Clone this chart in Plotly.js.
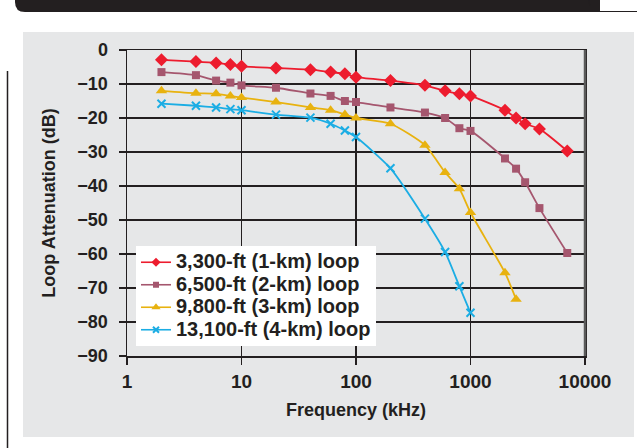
<!DOCTYPE html>
<html>
<head>
<meta charset="utf-8">
<script src="https://cdn.plot.ly/plotly-3.0.1.min.js"></script>
<style>
html,body{margin:0;padding:0;background:#ffffff;}
#chart{width:637px;height:448px;}
</style>
</head>
<body>
<div id="chart"></div>
<script>
// ---- data ----
var freqKHz = [2, 4, 6, 8, 10, 20, 40, 60, 80, 100, 200, 400, 600, 800, 1000, 2000, 2500, 3000, 4000, 7000];
var loop1km = [-2.9, -3.4, -3.8, -4.3, -4.8, -5.3, -5.8, -6.5, -7.0, -8.0, -9.0, -10.4, -12.0, -12.9, -13.5, -17.7, -20.0, -21.7, -23.2, -29.7];
var loop2km = [-6.5, -7.4, -9.0, -9.6, -10.4, -11.1, -12.8, -13.5, -15.0, -15.3, -16.9, -18.4, -20.0, -23.0, -23.8, -31.9, -34.9, -38.9, -46.5, -59.7];
var freq3km = [2, 4, 6, 8, 10, 20, 40, 60, 80, 100, 200, 400, 600, 800, 1000, 2000, 2500];
var loop3km = [-12.0, -12.7, -12.9, -13.5, -14.0, -15.3, -16.9, -17.7, -19.0, -20.0, -21.7, -28.0, -36.0, -40.8, -47.8, -65.5, -73.3];
var freq4km = [2, 4, 6, 8, 10, 20, 40, 60, 80, 100, 200, 400, 600, 800, 1000];
var loop4km = [-15.8, -16.4, -16.9, -17.4, -17.7, -19.0, -19.9, -21.7, -23.7, -25.6, -34.8, -49.6, -59.4, -69.5, -77.3];
var seriesNames = ["3,300-ft (1-km) loop", "6,500-ft (2-km) loop", "9,800-ft (3-km) loop", "13,100-ft (4-km) loop"];
var xTickVals = [1, 10, 100, 1000, 10000];
var xTickText = ["1", "10", "100", "1000", "10000"];
var yTickVals = [0, -10, -20, -30, -40, -50, -60, -70, -80, -90];

// ---- layout geometry ----
var W = 637, H = 448;
var M = {l: 127, r: 52, t: 50, b: 92};
var PW = W - M.l - M.r, PH = H - M.t - M.b;
function px(x){ return (x - M.l) / PW; }
function py(y){ return (H - M.b - y) / PH; }

var ink = "#231f20";
var FONT = "Liberation Sans, Arial, Helvetica, sans-serif";
var colors = ["#ed1c2e", "#a5566e", "#e8b20f", "#1badE4"];
var symbols = ["diamond", "square", "triangle-up", "x-thin"];
var plotSizes = [10, 8, 10, 8];
var legendSizes = [7, 6, 8, 6];

function marker(i, size){
  var m = {symbol: symbols[i], size: size, color: colors[i]};
  if (symbols[i] === "x-thin") m.line = {width: 2, color: colors[i]};
  return m;
}

var xs = [freqKHz, freqKHz, freq3km, freq4km];
var ys = [loop1km, loop2km, loop3km, loop4km];
var traces = [];
for (var i = 0; i < 4; i++) {
  traces.push({
    type: "scatter", mode: "lines+markers", x: xs[i], y: ys[i], name: seriesNames[i],
    line: {color: colors[i], width: 1.8, shape: "spline", smoothing: 0.6},
    marker: marker(i, plotSizes[i]), cliponaxis: false, showlegend: false
  });
}
// legend entries (small symbols, like the reference key)
for (var j = 0; j < 4; j++) {
  traces.push({
    type: "scatter", mode: "lines+markers", x: [null], y: [null],
    name: '<span style="font-size:20px">' + seriesNames[j] + '</span>',
    line: {color: colors[j], width: 1.6},
    marker: marker(j, legendSizes[j]), showlegend: true
  });
}

// rounded header bar path (in paper coords)
function headerPath(){
  var x0 = 15, x1 = 600, y0 = 0, y1 = 12, r = 10;
  return "M " + px(x0) + "," + py(y0) +
         " L " + px(x1) + "," + py(y0) +
         " L " + px(x1) + "," + py(y1) +
         " L " + px(x0 + r) + "," + py(y1) +
         " Q " + px(x0) + "," + py(y1) + " " + px(x0) + "," + py(y1 - r) + " Z";
}
function tabPath(){
  var x0 = 589, x1 = 645, y0 = -2, y1 = 11.5, r = 11;
  return "M " + px(x0) + "," + py(y0) +
         " L " + px(x0) + "," + py(y1 - r) +
         " Q " + px(x0) + "," + py(y1) + " " + px(x0 + r) + "," + py(y1) +
         " L " + px(x1) + "," + py(y1);
}

var layout = {
  width: W, height: H,
  margin: M,
  paper_bgcolor: "#ffffff",
  plot_bgcolor: "#ffffff",
  font: {family: FONT, color: ink},
  showlegend: true,
  legend: {
    x: px(136), y: py(246), xanchor: "left", yanchor: "top",
    bgcolor: "#ffffff", borderwidth: 0,
    font: {family: FONT, size: 15, color: ink, weight: "bold"},
    tracegroupgap: 0, itemwidth: 30
  },
  xaxis: {
    type: "log", range: [0, 4],
    tickvals: xTickVals, ticktext: xTickText,
    showgrid: true, gridcolor: ink, gridwidth: 1.5,
    showline: true, linecolor: ink, linewidth: 1.5, mirror: true,
    ticks: "outside", ticklen: 7, tickcolor: ink, tickwidth: 1.5,
    ticklabelstandoff: 1,
    tickfont: {family: FONT, size: 19, color: ink, weight: "bold"},
    title: {text: "Frequency (kHz)", font: {family: FONT, size: 18, color: ink, weight: "bold"}, standoff: 12},
    zeroline: false, fixedrange: true
  },
  yaxis: {
    range: [-90, 0],
    tickvals: yTickVals,
    showgrid: true, gridcolor: ink, gridwidth: 1.5,
    showline: true, linecolor: ink, linewidth: 1.5, mirror: true,
    ticks: "outside", ticklen: 7, tickcolor: ink, tickwidth: 1.5,
    ticklabelstandoff: 7,
    tickfont: {family: FONT, size: 18, color: ink, weight: "bold"},
    title: {text: "Loop Attenuation (dB)", font: {family: FONT, size: 18, color: ink, weight: "bold"}, standoff: 17},
    zeroline: false, fixedrange: true
  },
  shapes: [
    {type: "rect", xref: "paper", yref: "paper", layer: "below",
     x0: px(23), x1: px(634), y0: py(437), y1: py(32),
     fillcolor: "#e6e7e8", line: {width: 0}},
    {type: "path", xref: "paper", yref: "paper", path: headerPath(),
     fillcolor: "#231f20", line: {width: 0}},
    {type: "path", xref: "paper", yref: "paper", path: tabPath(),
     line: {color: "#231f20", width: 1}},
    {type: "line", xref: "paper", yref: "paper",
     x0: px(7.5), x1: px(7.5), y0: py(71), y1: py(450),
     line: {color: "#231f20", width: 1.5}},
    {type: "line", xref: "paper", yref: "paper",
     x0: 1, x1: 1, y0: 0, y1: 1,
     line: {color: "#5a5a5a", width: 2.5}}
  ]
};

Plotly.newPlot("chart", traces, layout, {displayModeBar: false, staticPlot: true});
</script>
</body>
</html>
